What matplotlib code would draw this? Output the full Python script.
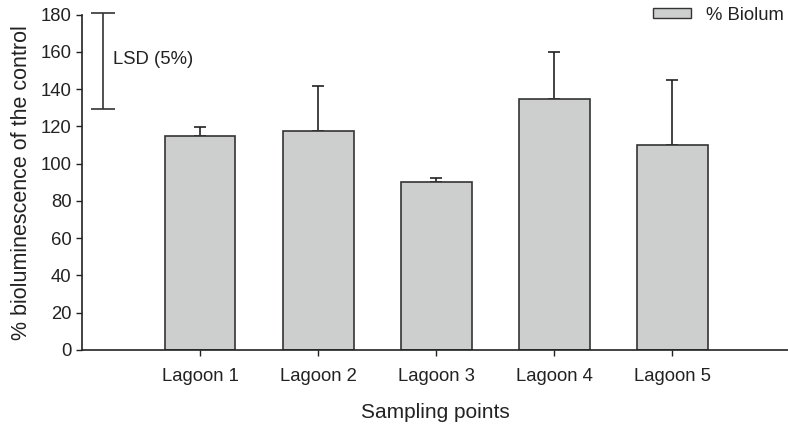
import matplotlib
matplotlib.use("Agg")
import matplotlib.pyplot as plt
from matplotlib.patches import Patch

plt.rcParams["font.family"] = ["Liberation Sans", "DejaVu Sans"]

# Data
sites = ["Lagoon 1", "Lagoon 2", "Lagoon 3", "Lagoon 4", "Lagoon 5"]
biolum = [115.0, 117.5, 90.0, 135.0, 110.3]
err_upper = [4.7, 24.4, 2.2, 25.0, 34.4]
lsd_low, lsd_high = 129.3, 181.0
yticks = [0, 20, 40, 60, 80, 100, 120, 140, 160, 180]

W, H = 788, 433
fig = plt.figure(figsize=(W / 100, H / 100), dpi=100)
ax = fig.add_axes([82 / W, (H - 350) / H, (W - 82) / W, (350 - 14.7) / H])

bar_fc = "#cdcfce"
edge = "#333333"
x = list(range(len(sites)))
ax.bar(x, biolum, width=0.6, color=bar_fc, edgecolor=edge, linewidth=1.2, zorder=2)
ax.errorbar(x, biolum, yerr=[[0] * len(sites), err_upper], fmt="none",
            ecolor="#222222", elinewidth=1.2, capsize=4.3, capthick=1.2, zorder=1)

# LSD (5%) bar
lsd_x = -0.82
lsd_mid = (lsd_low + lsd_high) / 2
ax.errorbar([lsd_x], [lsd_mid], yerr=[[lsd_mid - lsd_low], [lsd_high - lsd_mid]],
            fmt="none", ecolor="#333333", elinewidth=1.2, capsize=8.3, capthick=1.2,
            clip_on=False)
ax.text(-0.74, 156, "LSD (5%)", fontsize=13.3, color="#222222", va="center", ha="left")

ax.set_xlim(-1, 4.98)
ax.set_ylim(0, 180)
ax.set_yticks(yticks)
ax.set_xticks(x)
ax.set_xticklabels(sites)
ax.tick_params(axis="both", labelsize=13.3, length=4, width=1.0, color="#222222",
               labelcolor="#222222")
ax.tick_params(axis="x", pad=9)
for s in ["top", "right"]:
    ax.spines[s].set_visible(False)
for s in ["left", "bottom"]:
    ax.spines[s].set_linewidth(1.2)
    ax.spines[s].set_color("#222222")

ax.set_xlabel("Sampling points", fontsize=15, color="#222222", labelpad=13)
ax.set_ylabel("% bioluminescence of the control", fontsize=15.5, color="#222222",
              labelpad=6)

leg = ax.legend(handles=[Patch(facecolor=bar_fc, edgecolor=edge, linewidth=1.0,
                               label="% Biolum")],
                loc="upper right", bbox_to_anchor=(1.005, 1.045), frameon=False,
                fontsize=13.3, handlelength=2.1, handleheight=0.45, handletextpad=0.8,
                borderaxespad=0)
for t in leg.get_texts():
    t.set_color("#222222")

fig.savefig("out.png", dpi=100)
